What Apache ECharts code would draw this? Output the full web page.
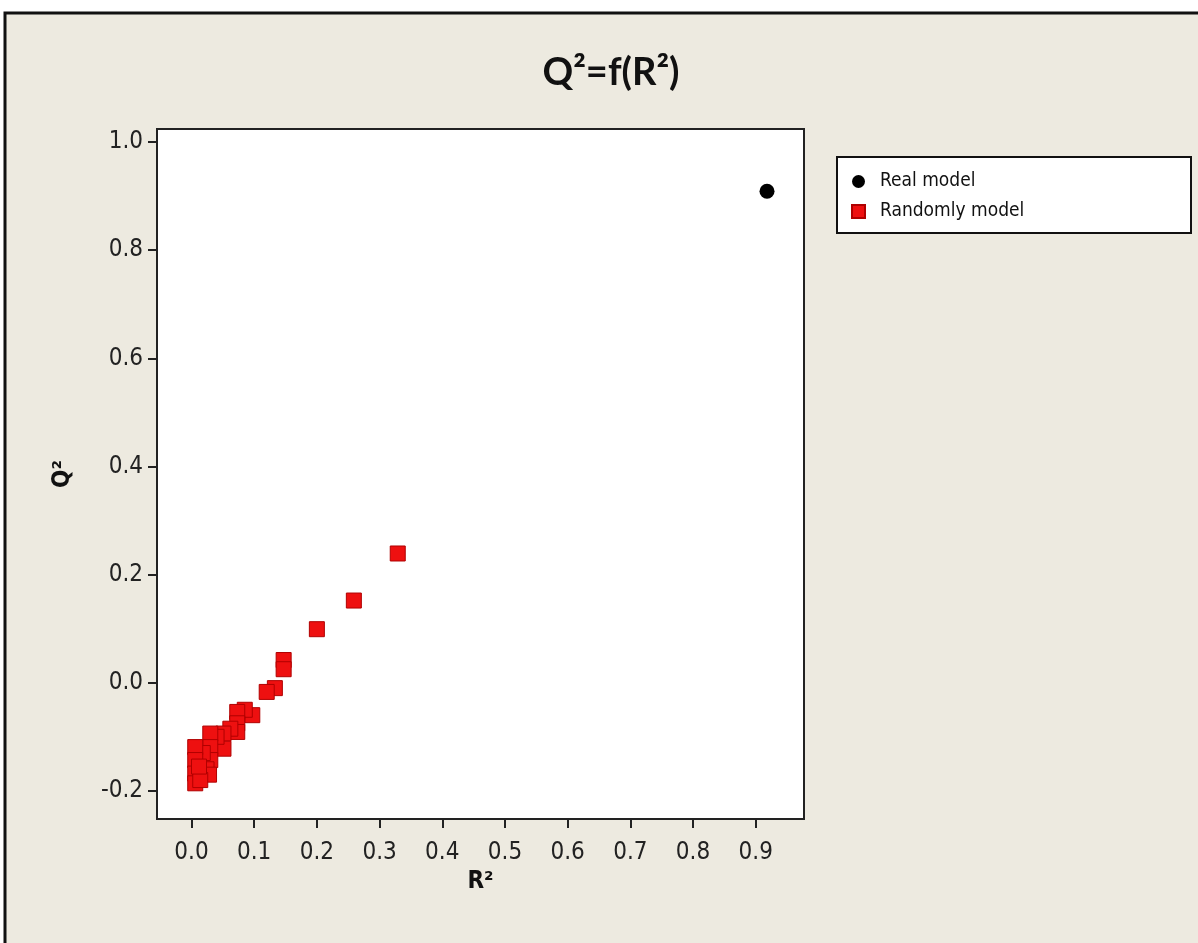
<!DOCTYPE html>
<html>
<head>
<meta charset="utf-8">
<script src="https://cdn.jsdelivr.net/npm/echarts@6/dist/echarts.min.js"></script>
<style>
html,body{margin:0;padding:0;background:#ffffff;}
#chart{width:1198px;height:943px;}
</style>
</head>
<body>
<div id="chart"></div>
<script>
// ---- data ----
const realX = [0.918];
const realY = [0.909];
const randX = [0.329, 0.259, 0.200, 0.147, 0.147, 0.133, 0.120, 0.097, 0.085, 0.073, 0.073, 0.073, 0.062, 0.051, 0.051, 0.040, 0.030, 0.030, 0.030, 0.024, 0.028, 0.018, 0.006, 0.006, 0.006, 0.006, 0.014, 0.012];
const randY = [0.239, 0.152, 0.099, 0.042, 0.025, -0.010, -0.017, -0.060, -0.050, -0.054, -0.075, -0.091, -0.085, -0.094, -0.122, -0.100, -0.094, -0.119, -0.143, -0.160, -0.170, -0.130, -0.119, -0.143, -0.168, -0.186, -0.180, -0.155];
const xTicks = [0, 0.1, 0.2, 0.3, 0.4, 0.5, 0.6, 0.7, 0.8, 0.9];
const yTicks = [-0.2, 0, 0.2, 0.4, 0.6, 0.8, 1.0];
const seriesNames = ['Real model', 'Randomly model'];
const titleText = 'Q²=f(R²)';
const xName = 'R²';
const yName = 'Q²';

const realData = realX.map((x, i) => [x, realY[i]]);
const randData = randX.map((x, i) => [x, randY[i]]);

const tickFont = '"DejaVu Sans Condensed", "DejaVu Sans", sans-serif';
const chart = echarts.init(document.getElementById('chart'), null, {renderer: 'canvas'});
chart.setOption({
  backgroundColor: '#ffffff',
  animation: false,
  graphic: [
    {type: 'rect', z: -10, shape: {x: 5, y: 13, width: 1300, height: 1000},
     style: {fill: '#EDEAE0', stroke: '#111111', lineWidth: 3}, silent: true},
    {type: 'text', x: 611, y: 73, z: 5,
     style: {text: titleText, fill: '#111', font: 'bold 38px Lato, "Liberation Sans", sans-serif',
             align: 'center', verticalAlign: 'middle'}},
    {type: 'rect', z: 1, shape: {x: 837, y: 157, width: 354, height: 76},
     style: {fill: '#ffffff', stroke: '#111111', lineWidth: 2}, silent: true}
  ],
  legend: {
    z: 10,
    orient: 'vertical',
    left: 846, top: 167,
    itemWidth: 13, itemHeight: 13,
    itemGap: 11,
    textStyle: {fontFamily: tickFont, fontSize: 19, color: '#111', lineHeight: 16, padding: [0, 0, 0, 10]},
    data: [
      {name: seriesNames[0], icon: 'circle', itemStyle: {color: '#000', opacity: 1}},
      {name: seriesNames[1], icon: 'rect'}
    ]
  },
  grid: {
    left: 157, top: 129, right: 394, bottom: 124,
    show: true, backgroundColor: '#ffffff', borderColor: '#222', borderWidth: 2
  },
  xAxis: {
    type: 'value', min: -0.055, max: 0.977,
    name: xName, nameLocation: 'middle', nameGap: 47,
    nameTextStyle: {fontFamily: tickFont, fontWeight: 'bold', fontSize: 24, color: '#111'},
    axisLine: {show: true, onZero: false, lineStyle: {color: '#222', width: 2}},
    axisTick: {show: true, inside: false, length: 9, customValues: xTicks, lineStyle: {color: '#222', width: 2}},
    axisLabel: {show: true, margin: 22, customValues: xTicks, formatter: v => v.toFixed(1),
                fontFamily: tickFont, fontSize: 24, color: '#222'},
    splitLine: {show: false}
  },
  yAxis: {
    type: 'value', min: -0.252, max: 1.024,
    name: yName, nameLocation: 'middle', nameGap: 82,
    nameTextStyle: {fontFamily: tickFont, fontWeight: 'bold', fontSize: 24, color: '#111'},
    axisLine: {show: true, onZero: false, lineStyle: {color: '#222', width: 2}},
    axisTick: {show: true, inside: false, length: 9, customValues: yTicks, lineStyle: {color: '#222', width: 2}},
    axisLabel: {show: true, margin: 14, customValues: yTicks, formatter: v => v.toFixed(1),
                fontFamily: tickFont, fontSize: 24, color: '#222'},
    splitLine: {show: false}
  },
  series: [
    {name: seriesNames[0], type: 'scatter', data: realData, symbol: 'circle', symbolSize: 15,
     itemStyle: {color: '#000000', opacity: 1}, z: 3},
    {name: seriesNames[1], type: 'scatter', data: randData, symbol: 'rect', symbolSize: 15,
     itemStyle: {color: '#EE1010', borderColor: '#B00000', borderWidth: 1, opacity: 1}, z: 2}
  ]
});
</script>
</body>
</html>
